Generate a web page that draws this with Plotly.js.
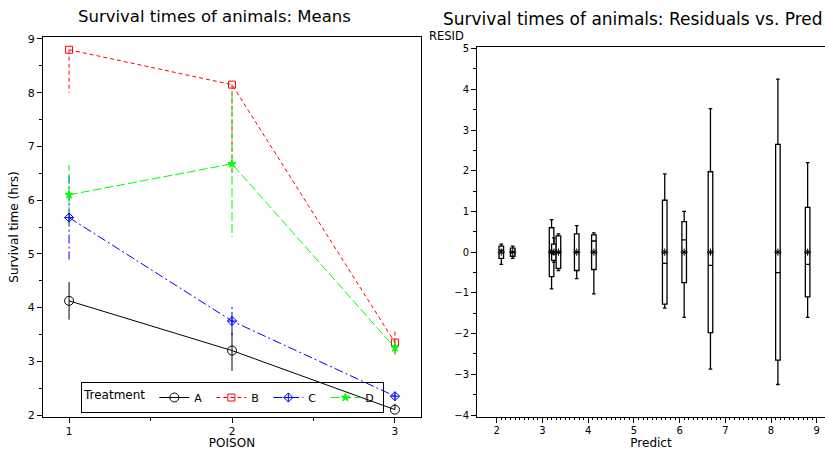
<!DOCTYPE html>
<html><head><meta charset="utf-8">
<script src="https://cdn.plot.ly/plotly-3.0.1.min.js"></script>
<style>html,body{margin:0;padding:0;background:#fff}#chart{width:825px;height:450px}</style>
</head><body><div id="chart"></div>
<script>
// ---- Left panel: treatment means by poison, with +/- 1 SE bars ----
const poisons = [1, 2, 3];
const treatments = ['A', 'B', 'C', 'D'];
const meanA = [4.125, 3.20, 2.10];
const meanB = [8.80, 8.15, 3.35];
const meanC = [5.675, 3.75, 2.35];
const meanD = [6.10, 6.675, 3.25];
const seA = [0.35, 0.38, 0.11];
const seB = [0.80, 1.68, 0.23];
const seC = [0.78, 0.28, 0.06];
const seD = [0.56, 1.36, 0.13];

// ---- Right panel: residuals grouped by predicted value ----
const predicted = [2.1, 2.35, 3.2, 3.25, 3.35, 3.75, 4.125, 5.675, 6.1, 6.675, 8.15, 8.8];
const residuals = [
  [0.1, 0, -0.3, 0.2],
  [-0.05, 0.15, 0.05, -0.15],
  [0.4, -0.3, 0.8, -0.9],
  [-0.25, 0.35, -0.15, 0.05],
  [-0.35, 0.35, 0.45, -0.45],
  [0.65, -0.25, -0.65, 0.25],
  [-1.025, 0.375, 0.475, 0.175],
  [-1.375, -1.175, 0.625, 1.925],
  [-1.6, 1.0, 0.5, 0.1],
  [-1.075, 3.525, 0.425, -2.875],
  [1.05, -2.05, -3.25, 4.25],
  [-0.6, 2.2, 0, -1.6]
];
const residualMeans = [0, 0, 0, 0, 0, 0, 0, 0, 0, 0, 0, 0];

const FONT = 'DejaVu Sans, Arial, sans-serif';
const series = [
  {name: 'A', mean: meanA, se: seA, color: '#000000', dash: 'solid', symbol: 'circle-open', size: 9},
  {name: 'B', mean: meanB, se: seB, color: '#FF0000', dash: '4px,3px', symbol: 'square-open', size: 7},
  {name: 'C', mean: meanC, se: seC, color: '#0000FF', dash: '9px,3px,2px,3px', symbol: 'diamond-cross-open', size: 7},
  {name: 'D', mean: meanD, se: seD, color: '#00FF00', dash: '9px,3px', symbol: 'star', size: 6}
];
const Y_MIN = 2, Y_MAX = 9;

const traces = [];
series.forEach(s => {
  // error bar segments (segments leaving the axis range are omitted)
  const ex = [], ey = [];
  poisons.forEach((p, i) => {
    const lo = s.mean[i] - s.se[i], hi = s.mean[i] + s.se[i];
    if (lo >= Y_MIN) { ex.push(p, p, null); ey.push(s.mean[i], lo, null); }
    if (hi <= Y_MAX) { ex.push(p, p, null); ey.push(s.mean[i], hi, null); }
  });
  traces.push({x: ex, y: ey, xaxis: 'x', yaxis: 'y', mode: 'lines', showlegend: false,
    line: {color: s.color, width: 1, dash: s.dash}, hoverinfo: 'skip'});
});
series.forEach(s => {
  traces.push({x: poisons, y: s.mean, name: s.name, xaxis: 'x', yaxis: 'y', mode: 'lines+markers',
    line: {color: s.color, width: 1, dash: s.dash},
    marker: {symbol: s.symbol, size: s.size, color: s.color, line: {color: s.color, width: 1}}});
});

// box plot trace
const bx = [], by = [];
predicted.forEach((p, i) => residuals[i].forEach(r => { bx.push(p); by.push(r); }));
traces.push({type: 'box', x: bx, y: by, xaxis: 'x2', yaxis: 'y2', showlegend: false,
  width: 0.1, whiskerwidth: 0.8, boxpoints: false, quartilemethod: 'exclusive',
  fillcolor: '#ffffff', line: {color: '#000000', width: 1.3}});
traces.push({x: predicted, y: residualMeans, xaxis: 'x2', yaxis: 'y2', mode: 'markers', showlegend: false,
  marker: {symbol: 'asterisk-open', size: 6, color: '#000', line: {color: '#000', width: 1}}});

const minorX2 = [];
for (let k = 20; k <= 90; k++) minorX2.push(k / 10);

const axisCommon = {showgrid: false, zeroline: false, showline: true, linecolor: '#000', linewidth: 1,
  ticks: 'outside', ticklen: 5, tickcolor: '#000', tickfont: {family: FONT, size: 11, color: '#000'}};

const layout = {
  width: 825, height: 450,
  margin: {l: 0, r: 0, t: 0, b: 0},
  paper_bgcolor: '#fff', plot_bgcolor: '#fff',
  font: {family: FONT, color: '#000'},
  showlegend: true,
  legend: {orientation: 'h', x: 81 / 825, xanchor: 'left', y: (450 - 413) / 450, yanchor: 'bottom',
    bgcolor: 'rgba(0,0,0,0)', bordercolor: '#000', borderwidth: 1,
    font: {family: FONT, size: 11, color: '#000'},
    title: {text: 'Treatment', side: 'left', font: {family: FONT, size: 12, color: '#000'}},
    entrywidth: 12, entrywidthmode: 'pixels', itemwidth: 30, tracegroupgap: 0},
  xaxis: Object.assign({}, axisCommon, {domain: [43 / 825, 421 / 825], range: [0.84, 3.16], mirror: true,
    tickvals: poisons, ticktext: poisons.map(String), ticklabelstandoff: -1, tickfont: {family: FONT, size: 10.5, color: '#000'},
    minor: {dtick: 0.5, ticks: 'outside', ticklen: 3, tickcolor: '#000'},
    title: {text: 'POISON', font: {family: FONT, size: 12, color: '#000'}, standoff: 6}}),
  yaxis: Object.assign({}, axisCommon, {domain: [(450 - 417) / 450, (450 - 37) / 450], range: [1.963, 9.037], mirror: true,
    tickvals: [2, 3, 4, 5, 6, 7, 8, 9],
    minor: {dtick: 0.5, ticks: 'outside', ticklen: 3, tickcolor: '#000'},
    title: {text: 'Survival time (hrs)', font: {family: FONT, size: 12, color: '#000'}, standoff: 6}}),
  xaxis2: Object.assign({}, axisCommon, {domain: [477 / 825, 1], range: [1.569, 9.18], anchor: 'y2', mirror: true,
    tickvals: [2, 3, 4, 5, 6, 7, 8, 9], tickfont: {family: FONT, size: 10, color: '#000'}, ticklabelstandoff: -1,
    minor: {tickmode: 'array', tickvals: minorX2, ticks: 'outside', ticklen: 2, tickcolor: '#000'},
    title: {text: 'Predict', font: {family: FONT, size: 12, color: '#000'}, standoff: 3}}),
  yaxis2: Object.assign({}, axisCommon, {domain: [(450 - 417.3) / 450, (450 - 46.7) / 450], range: [-4.056, 5.047], anchor: 'x2',
    tickvals: [-4, -3, -2, -1, 0, 1, 2, 3, 4, 5], tickfont: {family: FONT, size: 10, color: '#000'},
    minor: {dtick: 0.5, ticks: 'outside', ticklen: 3, tickcolor: '#000'}}),
  annotations: [
    {text: 'Survival times of animals: Means', xref: 'paper', yref: 'paper', x: 214.5 / 825, y: (450 - 16) / 450,
      xanchor: 'center', yanchor: 'middle', showarrow: false, font: {family: FONT, size: 16.5, color: '#000'}},
    {text: 'Survival times of animals: Residuals vs. Pred', xref: 'paper', yref: 'paper', x: 441 / 825, y: (450 - 19) / 450,
      xanchor: 'left', yanchor: 'middle', showarrow: false, font: {family: FONT, size: 17, color: '#000'}},
    {text: 'RESID', xref: 'paper', yref: 'paper', x: 427 / 825, y: (450 - 36) / 450,
      xanchor: 'left', yanchor: 'middle', showarrow: false, font: {family: FONT, size: 11.5, color: '#000'}}
  ]
};

Plotly.newPlot('chart', traces, layout, {displayModeBar: false, staticPlot: true});
</script>
</body></html>
